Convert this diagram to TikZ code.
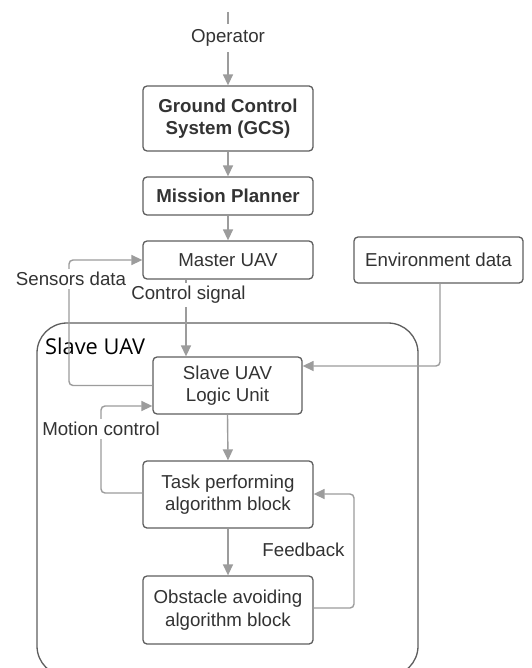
\documentclass[tikz,border=0pt]{standalone}
\usepackage{fontspec}
\setmainfont{Liberation Sans}
\newfontfamily\slavefont{Open Sans}
\usetikzlibrary{arrows.meta,calc}
\definecolor{boxc}{HTML}{5E5E5E}
\definecolor{linec}{HTML}{9C9C9C}
\definecolor{txt}{HTML}{333333}
\begin{document}
\begin{tikzpicture}[x=1pt,y=-1pt,
  blk/.style={draw=boxc,line width=1.3pt,rounded corners=4pt,fill=white,
    inner sep=0pt,align=center,text=txt,font=\fontsize{18.7}{22.5}\selectfont},
  bblk/.style={blk,font=\fontsize{18.7}{22.5}\selectfont\bfseries},
  conn/.style={draw=linec,line width=1.4pt,rounded corners=4pt,
    -{Triangle[length=11pt,width=10pt]}},
  lbl/.style={fill=white,inner xsep=1pt,inner ysep=3pt,text=txt,
    font=\fontsize{18.7}{21}\selectfont}]
\useasboundingbox (0,0) rectangle (531,668);
\fill[white] (0,0) rectangle (531,668);
% container
\begin{scope}
\clip (0,0) rectangle (531,668);
\draw[boxc,line width=1.3pt,rounded corners=30pt] (37,323) rectangle (418,676);
\end{scope}
\node[anchor=west,inner sep=0pt,text=black,font=\slavefont\fontsize{21.8}{24}\selectfont] (slavelbl) at (45,346) {Slave UAV};
% boxes
\node[bblk,minimum width=170pt,minimum height=65pt] (gcs) at (228,118.5) {Ground Control\\System (GCS)};
\node[bblk,minimum width=170pt,minimum height=38pt] (mp) at (228,196) {Mission Planner};
\node[blk,minimum width=170pt,minimum height=38pt] (master) at (228,260) {Master UAV};
\node[blk,minimum width=169pt,minimum height=46pt] (env) at (438.5,260) {Environment data};
\node[blk,minimum width=149pt,minimum height=57pt] (logic) at (227.5,385.5) {Slave UAV\\Logic Unit};
\node[blk,minimum width=170pt,minimum height=67pt] (task) at (228,494.5) {Task performing\\algorithm block};
\node[blk,minimum width=170pt,minimum height=68pt] (obst) at (228,610) {Obstacle avoiding\\algorithm block};
% helper coordinates
\coordinate (top) at (228,12);
\coordinate (cs) at (186,0);
\coordinate (sA) at (69,385.5);
\coordinate (sB) at (69,260);
\coordinate (envturn) at (440,366);
\coordinate (mA) at (101,493);
\coordinate (mB) at (101,406);
\coordinate (fA) at (354,608);
\coordinate (fB) at (354,494);
% connectors
\draw[conn] (top) -- (gcs.north);
\draw[conn] (gcs.south) -- (mp.north);
\draw[conn] (mp.south) -- (master.north);
\draw[conn] (master.south -| cs) -- (logic.north -| cs);
\draw[conn] (logic.west) -- (sA) -- (sB) -- (master.west);
\draw[conn] (env.south -| envturn) -- (envturn) -- (logic.east |- envturn);
\draw[conn] (task.west |- mA) -- (mA) -- (mB) -- (logic.west |- mB);
\draw[conn] (logic.south) -- (task.north);
\draw[conn] (task.south) -- (obst.north);
\draw[conn] (obst.east |- fA) -- (fA) -- (fB) -- (task.east |- fB);
% labels
\node[lbl,inner ysep=6pt] (oplbl) at (228,38) {Operator};
\node[lbl] (cslbl) at (188.5,295) {Control signal};
\node[lbl] (sdlbl) at (71,279) {Sensors data};
\node[lbl] (mclbl) at (101,429) {Motion control};
\node[lbl,fill=none] (fblbl) at (303.5,550) {Feedback};
\end{tikzpicture}
\end{document}
